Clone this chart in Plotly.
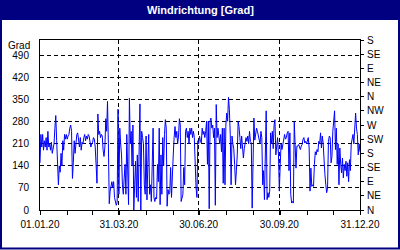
import pandas as pd
import plotly.graph_objects as go

# ---- data (daily wind direction in degrees, 2020) ----
q1 = [150, 240, 200, 240, 190, 220, 200, 230, 190, 250, 200, 210, 190, 215, 180, 200,
      210, 260, 300, 220, 160, 80, 140, 120, 180, 140, 220, 190, 240, 225, 240, 225,
      235, 240, 260, 270, 250, 100, 150, 220, 180, 230, 240, 245, 220, 200, 230, 190,
      215, 210, 230, 240, 220, 235, 225, 240, 235, 205, 200, 210, 215, 230, 225, 200,
      150, 85, 305, 240, 250, 230, 240, 235, 190, 170, 200, 290, 250, 345, 210, 20,
      60, 80, 90, 70, 90, 40, 30, 15, 25, 320, 50]
q2 = [260, 210, 175, 80, 50, 100, 145, 50, 240, 130, 17, 355, 210, 250, 140, 270,
      0, 80, 155, 40, 175, 27, 285, 337, 0, 250, 230, 210, 80, 50, 235, 32, 145, 240,
      50, 80, 27, 135, 260, 40, 27, 40, 35, 145, 90, 260, 17, 175, 50, 230, 140, 240,
      287, 260, 12, 65, 50, 55, 135, 40, 145, 175, 230, 265, 230, 250, 210, 235, 290,
      270, 27, 40, 50, 135, 80, 250, 260, 230, 250, 210, 260, 240, 260, 230, 250, 230,
      135, 70, 40, 220, 210]
q3 = [235, 218, 213, 260, 240, 250, 230, 250, 282, 145, 282, 4, 282, 292, 260, 270,
      230, 260, 15, 335, 230, 260, 235, 210, 240, 185, 260, 85, 260, 80, 270, 308,
      282, 358, 320, 240, 80, 235, 210, 195, 145, 80, 125, 175, 282, 265, 230, 195,
      235, 210, 165, 195, 222, 230, 218, 235, 210, 250, 218, 213, 6, 250, 292, 222,
      240, 260, 250, 235, 218, 210, 250, 230, 80, 125, 33, 185, 315, 33, 55, 40, 60,
      245, 210, 250, 195, 270, 287, 175, 218, 230, 175]
q4 = [60, 145, 210, 192, 210, 230, 240, 225, 230, 245, 250, 125, 245, 50, 22, 27,
      22, 280, 185, 133, 203, 203, 208, 197, 192, 203, 208, 225, 230, 213, 218, 210,
      220, 230, 197, 60, 133, 75, 80, 75, 145, 185, 175, 192, 185, 218, 210, 245, 197,
      235, 210, 125, 112, 80, 55, 70, 218, 235, 230, 150, 170, 250, 282, 315, 192,
      260, 145, 210, 80, 197, 145, 118, 165, 102, 145, 125, 155, 107, 150, 90, 160,
      125, 210, 230, 240, 210, 270, 308, 260, 240, 175, 210, 185]
values = q1 + q2 + q3 + q4
dates = pd.date_range("2020-01-01", periods=len(values), freq="D")

x_tickvals = ["2020-01-01", "2020-03-31", "2020-06-30", "2020-09-30", "2020-12-31"]
x_ticktext = ["01.01.20", "31.03.20", "30.06.20", "30.09.20", "31.12.20"]
y_tickvals = [0, 70, 140, 210, 280, 350, 420, 490]
y2_tickvals = [0, 45, 90, 135, 180, 225, 270, 315, 360, 405, 450, 495, 540]
y2_ticktext = ["N", "NE", "E", "SE", "S", "SW", "W", "NW", "N", "NE", "E", "SE", "S"]
title_text = "Windrichtung [Grad]"
unit_text = "Grad"

NAVY = "#000080"
FONT = "Liberation Sans"

fig = go.Figure()
fig.add_trace(go.Scatter(x=dates, y=values, mode="lines",
                         line=dict(color="#0000FF", width=1), hoverinfo="skip",
                         showlegend=False))
fig.add_trace(go.Scatter(x=[dates[0]], y=[None], yaxis="y2", showlegend=False,
                         hoverinfo="skip"))

W, H = 400, 250
L, R, T, B = 40, 40, 40, 40
pw, ph = W - L - R, H - T - B


def px_x(x):
    return (x - L) / pw


def px_y(y):
    return (H - B - y) / ph


fig.update_layout(
    width=W, height=H,
    margin=dict(l=L, r=R, t=T, b=B, pad=0),
    paper_bgcolor="#FFFFFF", plot_bgcolor="#FFFFFF",
    font=dict(family=FONT, size=10, color="black"),
    xaxis=dict(
        type="date", range=["2020-01-01", "2020-12-31"],
        tickmode="array", tickvals=x_tickvals, ticktext=x_ticktext,
        ticks="outside", ticklen=4, tickcolor="black",
        showgrid=True, gridcolor="black", griddash="4px,3px", gridwidth=1,
        showline=True, linecolor="black", linewidth=1, mirror=True,
        zeroline=False, ticklabelstandoff=1,
        minor=dict(ticks="outside", ticklen=4, tickcolor="black",
                   dtick="M1", tick0="2020-01-01", showgrid=False),
    ),
    yaxis=dict(
        range=[0, 540], tickmode="array", tickvals=y_tickvals,
        ticks="", showgrid=True, gridcolor="black", griddash="4px,3px",
        gridwidth=1, showline=True, linecolor="black", linewidth=1,
        mirror=True, zeroline=False, ticklabelstandoff=8,
    ),
    yaxis2=dict(
        range=[0, 540], overlaying="y", side="right",
        tickmode="array", tickvals=y2_tickvals, ticktext=y2_ticktext,
        ticks="outside", ticklen=3, tickcolor="black",
        showgrid=False, showline=True, linecolor="black", linewidth=1,
        zeroline=False, ticklabelstandoff=1,
    ),
    shapes=[
        dict(type="rect", xref="paper", yref="paper",
             x0=px_x(0), x1=px_x(W), y0=px_y(20), y1=px_y(0),
             fillcolor=NAVY, line=dict(width=0), layer="below"),
        dict(type="rect", xref="paper", yref="paper",
             x0=px_x(1), x1=px_x(W - 1), y0=px_y(H - 1.5), y1=px_y(1),
             fillcolor="rgba(0,0,0,0)", line=dict(color=NAVY, width=2),
             layer="below"),
    ],
    annotations=[
        dict(text="<b>" + title_text + "</b>", xref="paper", yref="paper",
             x=px_x(200), y=px_y(10), xanchor="center", yanchor="middle",
             showarrow=False, font=dict(family=FONT, size=11, color="white")),
        dict(text=unit_text, xref="paper", yref="paper",
             x=px_x(32), y=px_y(45), xanchor="right", yanchor="middle",
             showarrow=False, font=dict(family=FONT, size=10, color="black")),
    ],
)

fig.write_html("out.html")
